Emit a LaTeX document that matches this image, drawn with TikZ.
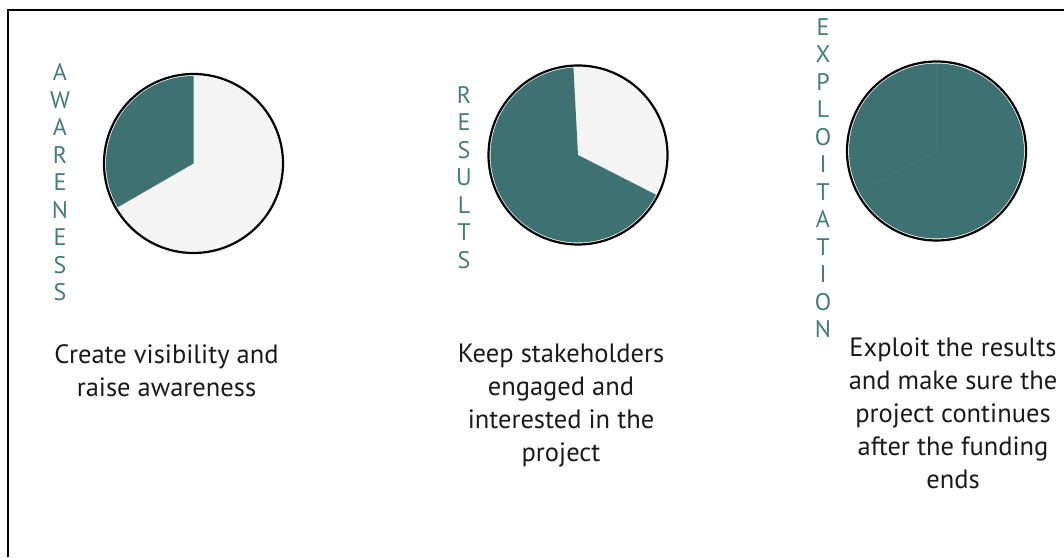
\documentclass[tikz,border=0pt]{standalone}
\usepackage{fontspec}
\setmainfont{PT Sans}
\definecolor{pieteal}{HTML}{3E7272}
\definecolor{wordteal}{HTML}{447C7A}
\definecolor{pielight}{HTML}{F4F4F4}
\definecolor{captiontext}{HTML}{1A1A1A}
\begin{document}
\begin{tikzpicture}[x=1pt,y=1pt,
  frameline/.style={line width=2pt,black},
  pierim/.style={line width=2.2pt,black},
  vword/.style={inner sep=0pt,align=center,text=wordteal,
    font=\fontsize{24}{27.5}\selectfont},
  caption/.style={inner sep=0pt,align=center,anchor=north,text=captiontext,
    font=\fontsize{26.5}{33}\selectfont},
  seam/.style={pieteal!85!white,line width=0.5pt,opacity=0.35}]
\useasboundingbox (0,0) rectangle (1064,557);

% open frame: left and top edges only
\draw[frameline] (8,0) -- (8,547) -- (1064,547);

% pie centres
\coordinate (c1) at (193.5,393.5);
\coordinate (c2) at (578,402);
\coordinate (c3) at (936.5,406);

% awareness: one third filled
\fill[white] (c1) circle (89.5);
\fill[pielight] (c1) circle (88);
\fill[pieteal] (c1) -- ++(90:87.5) arc (90:210:87.5) -- cycle;
\draw[pierim] (c1) circle (89.5);

% results: two thirds filled
\fill[white] (c2) circle (89.5);
\fill[pielight] (c2) circle (88);
\fill[pieteal] (c2) -- ++(93:87.5) arc (93:333:87.5) -- cycle;
\draw[pierim] (c2) circle (89.5);

% exploitation: full
\fill[white] (c3) circle (89.5);
\fill[pieteal] (c3) circle (87.5);
\draw[seam] (c3) -- ++(90:87);
\draw[seam] (c3) -- ++(208:87);
\draw[pierim] (c3) circle (89.5);

% vertical words
\node[vword] (w1) at (60,374.5) {A\\W\\A\\R\\E\\N\\E\\S\\S};
\node[vword] (w2) at (464,379.5) {R\\E\\S\\U\\L\\T\\S};
\node[vword] (w3) at (823,379) {E\\X\\P\\L\\O\\I\\T\\A\\T\\I\\O\\N};

% captions
\node[caption] (t1) at (166.5,213) {Create visibility and\\raise awareness};
\node[caption] (t2) at (561,213) {Keep stakeholders\\engaged and\\interested in the\\project};
\node[caption] (t3) at (953,219) {Exploit the results\\and make sure the\\project continues\\after the funding\\ends};
\end{tikzpicture}
\end{document}
